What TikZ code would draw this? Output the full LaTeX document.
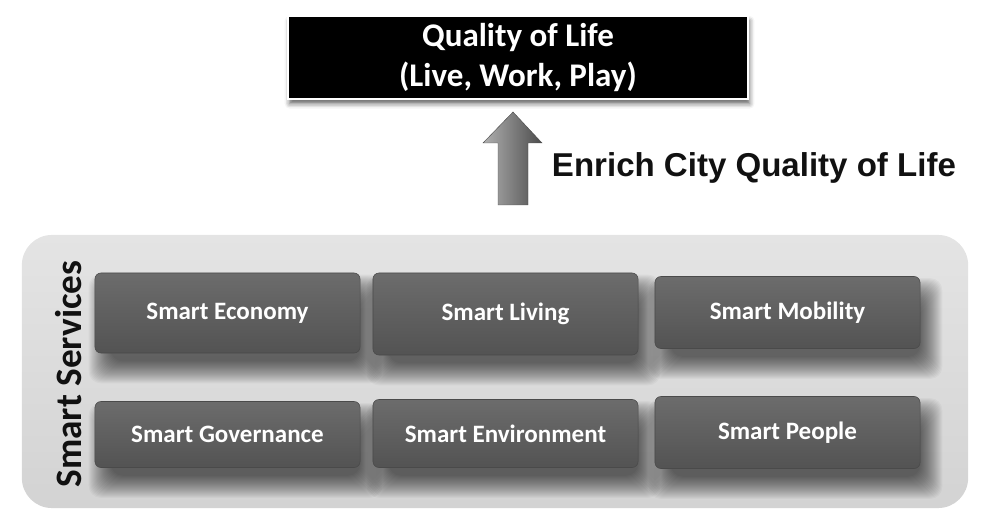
\documentclass[tikz,border=0pt]{standalone}
\usepackage{fontspec}
\setmainfont{Carlito}
\newfontfamily\labelfont{Liberation Sans}
\usetikzlibrary{shadows.blur,calc}
\definecolor{PanelTop}{HTML}{E4E4E4}
\definecolor{PanelBottom}{HTML}{D3D3D3}
\definecolor{TileTop}{HTML}{6C6C6C}
\definecolor{TileEdge}{HTML}{4A4A4A}
\definecolor{TileBottom}{HTML}{535353}
\definecolor{ArrowLight}{HTML}{B0B0B0}
\definecolor{ArrowDark}{HTML}{4C4C4C}
\definecolor{Ink}{HTML}{111111}

\pgfdeclarelayer{back}
\pgfdeclarelayer{shade}
\pgfsetlayers{back,shade,main}

\tikzset{
  tile/.style={rectangle, rounded corners=0.15cm, top color=TileTop, bottom color=TileBottom,
    draw=TileEdge, line width=0.4pt, text=white, minimum width=6.625cm,
    font=\bfseries\fontsize{17.8}{20}\selectfont},
  tile shade/.style={fill=black, opacity=0.03, rounded corners=0.3cm},
}

\begin{document}
\begin{tikzpicture}[x=0.025cm,y=-0.025cm]
    \useasboundingbox (0,0) rectangle (984,511);
    % goal box
    \node[draw=white, line width=1.5pt, fill=black, minimum width=11.5cm, minimum height=2.075cm,
      text=white, align=center, font=\bfseries\fontsize{23.5}{28}\selectfont,
      blur shadow={shadow xshift=0.04cm, shadow yshift=-0.12cm, shadow blur radius=0.12cm, shadow opacity=60}]
      (quality) at (518,57.5) {Quality of Life\\(Live, Work, Play)};
    % block arrow and its label
    \draw[left color=ArrowLight, right color=ArrowDark, draw=gray!60!black, line width=0.3pt]
      (498,205) -- (498,143) -- (483,143) -- (513,112) -- (542,143) -- (528,143) -- (528,205) -- cycle;
    \node[anchor=west, text=Ink, font=\labelfont\bfseries\fontsize{23.5}{28}\selectfont] (enrich) at (547,168) {Enrich City Quality of Life};
    % services panel
    \begin{pgfonlayer}{back}
      \node[rounded corners=0.75cm, top color=PanelTop, bottom color=PanelBottom, minimum width=23.65cm,
        minimum height=6.825cm] (panel) at (495,371.5) {};
    \end{pgfonlayer}
    \node[rotate=90, text=Ink, font=\bfseries\fontsize{26.5}{30}\selectfont] (services) at (69,374) {Smart Services};
    \node[tile, minimum height=2.0cm] (economy) at (227.5,313) {Smart Economy};
    \node[tile, minimum height=2.05cm] (living) at (505.5,314) {Smart Living};
    \node[tile, minimum height=1.8cm] (mobility) at (787.5,312.5) {Smart Mobility};
    \node[tile, minimum height=1.65cm] (governance) at (227.5,434.5) {Smart Governance};
    \node[tile, minimum height=1.7cm] (environment) at (505.5,433.5) {Smart Environment};
    \node[tile, minimum height=1.8cm] (people) at (787.5,432.5) {Smart People};
    % soft shadows under the tiles
    \begin{pgfonlayer}{shade}
      \foreach \t in {economy,living,mobility,governance,environment,people}
        \foreach \e in {-8,...,14}
          \fill[tile shade] ($(\t.south west)+(8-\e,16+\e)$) rectangle ($(\t.north east)+(8+\e,16-\e)$);
    \end{pgfonlayer}
  \end{tikzpicture}
\end{document}
